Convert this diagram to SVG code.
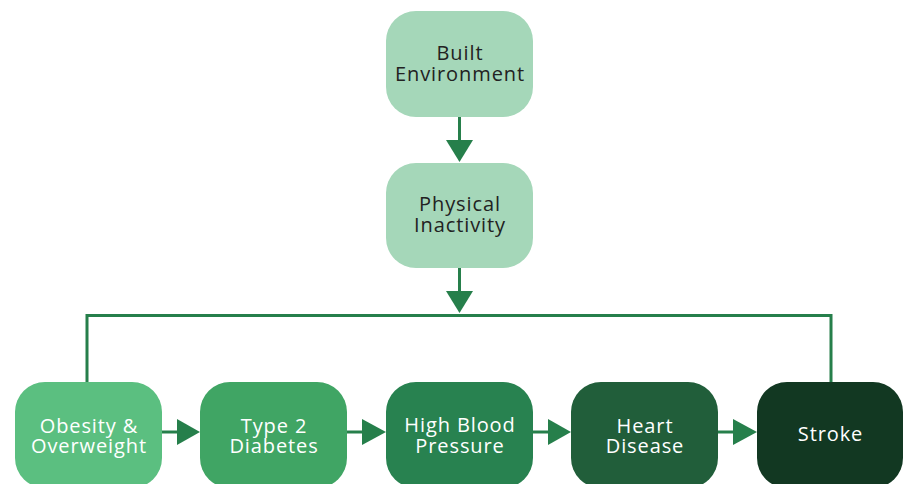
<svg xmlns="http://www.w3.org/2000/svg" width="913" height="484" viewBox="0 0 913 484">
<style>
.box{stroke:none}
.t{font-family:"Open Sans","Liberation Sans",sans-serif;font-size:20px;letter-spacing:0.9px;text-anchor:middle}
.dark{fill:#222}
.light{fill:#fff}
.ln{stroke:#267f4b;stroke-width:3;fill:none}
.ah{fill:#267f4b}
</style>
<rect width="913" height="484" fill="#fff"/>
<g id="connectors">
<line class="ln" x1="459.5" y1="117" x2="459.5" y2="142"/>
<polygon class="ah" points="446,140 473,140 459.5,162"/>
<line class="ln" x1="459.5" y1="268" x2="459.5" y2="293"/>
<polygon class="ah" points="446,291 473,291 459.5,313"/>
<polyline class="ln" points="87,382 87,315.5 831,315.5 831,382"/>
<line class="ln" x1="162" y1="432" x2="180" y2="432"/>
<polygon class="ah" points="177,419 177,445 200,432"/>
<line class="ln" x1="347" y1="432" x2="365" y2="432"/>
<polygon class="ah" points="362,419 362,445 386,432"/>
<line class="ln" x1="533" y1="432" x2="551" y2="432"/>
<polygon class="ah" points="548,419 548,445 571,432"/>
<line class="ln" x1="718" y1="432" x2="736" y2="432"/>
<polygon class="ah" points="733,419 733,445 757,432"/>
</g>
<g id="built-environment">
<rect class="box" x="386" y="11" width="147" height="106" rx="30" fill="#a5d7b9"/>
<text class="t dark" x="460" y="59.5">Built</text>
<text class="t dark" x="460" y="80.5">Environment</text>
</g>
<g id="physical-inactivity">
<rect class="box" x="386" y="163" width="147" height="105" rx="30" fill="#a5d7b9"/>
<text class="t dark" x="460" y="211">Physical</text>
<text class="t dark" x="460" y="232">Inactivity</text>
</g>
<g id="obesity">
<rect class="box" x="15" y="382" width="147" height="106" rx="30" fill="#5bbf80"/>
<text class="t light" x="89" y="432.5">Obesity &amp;</text>
<text class="t light" x="89" y="453">Overweight</text>
</g>
<g id="type2-diabetes">
<rect class="box" x="200" y="382" width="147" height="106" rx="30" fill="#40a564"/>
<text class="t light" x="274" y="432.5">Type 2</text>
<text class="t light" x="274" y="453">Diabetes</text>
</g>
<g id="high-blood-pressure">
<rect class="box" x="386" y="382" width="147" height="106" rx="30" fill="#288250"/>
<text class="t light" x="460" y="432">High Blood</text>
<text class="t light" x="460" y="453">Pressure</text>
</g>
<g id="heart-disease">
<rect class="box" x="571" y="382" width="147" height="106" rx="30" fill="#215e3a"/>
<text class="t light" x="645" y="432.5">Heart</text>
<text class="t light" x="645" y="453">Disease</text>
</g>
<g id="stroke">
<rect class="box" x="757" y="382" width="146" height="106" rx="30" fill="#123822"/>
<text class="t light" x="830.5" y="441">Stroke</text>
</g>
</svg>
